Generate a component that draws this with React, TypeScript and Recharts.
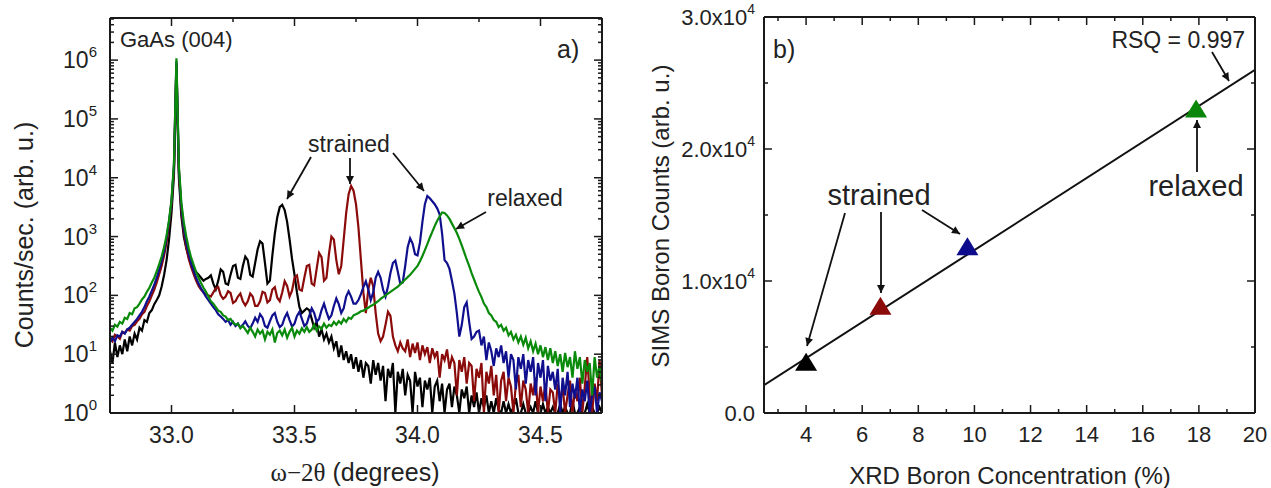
import React from 'react';
import { LineChart, ComposedChart, Line, Scatter, Cell, XAxis, YAxis } from 'recharts';

// ---- panel a: XRD omega-2theta scans (values are log10 of counts/sec) ----
const angle = [
  32.75, 32.76, 32.77, 32.78, 32.79, 32.80, 32.81, 32.82, 32.83, 32.84,
  32.85, 32.86, 32.87, 32.88, 32.89, 32.90, 32.91, 32.92, 32.93, 32.94,
  32.95, 32.96, 32.97, 32.98, 32.99, 33.00, 33.01, 33.02, 33.03, 33.04,
  33.05, 33.06, 33.07, 33.08, 33.09, 33.10, 33.11, 33.12, 33.13, 33.14,
  33.15, 33.16, 33.17, 33.18, 33.19, 33.20, 33.21, 33.22, 33.23, 33.24,
  33.25, 33.26, 33.27, 33.28, 33.29, 33.30, 33.31, 33.32, 33.33, 33.34,
  33.35, 33.36, 33.37, 33.38, 33.39, 33.40, 33.41, 33.42, 33.43, 33.44,
  33.45, 33.46, 33.47, 33.48, 33.49, 33.50, 33.51, 33.52, 33.53, 33.54,
  33.55, 33.56, 33.57, 33.58, 33.59, 33.60, 33.61, 33.62, 33.63, 33.64,
  33.65, 33.66, 33.67, 33.68, 33.69, 33.70, 33.71, 33.72, 33.73, 33.74,
  33.75, 33.76, 33.77, 33.78, 33.79, 33.80, 33.81, 33.82, 33.83, 33.84,
  33.85, 33.86, 33.87, 33.88, 33.89, 33.90, 33.91, 33.92, 33.93, 33.94,
  33.95, 33.96, 33.97, 33.98, 33.99, 34.00, 34.01, 34.02, 34.03, 34.04,
  34.05, 34.06, 34.07, 34.08, 34.09, 34.10, 34.11, 34.12, 34.13, 34.14,
  34.15, 34.16, 34.17, 34.18, 34.19, 34.20, 34.21, 34.22, 34.23, 34.24,
  34.25, 34.26, 34.27, 34.28, 34.29, 34.30, 34.31, 34.32, 34.33, 34.34,
  34.35, 34.36, 34.37, 34.38, 34.39, 34.40, 34.41, 34.42, 34.43, 34.44,
  34.45, 34.46, 34.47, 34.48, 34.49, 34.50, 34.51, 34.52, 34.53, 34.54,
  34.55, 34.56, 34.57, 34.58, 34.59, 34.60, 34.61, 34.62, 34.63, 34.64,
  34.65, 34.66, 34.67, 34.68, 34.69, 34.70, 34.71, 34.72, 34.73, 34.74,
  34.75,
];

const blackLog = [
  1.05, 0.85, 1.20, 0.95, 1.15, 1.00, 1.25, 1.05, 1.30, 1.15,
  1.35, 1.25, 1.45, 1.40, 1.58, 1.55, 1.70, 1.75, 1.85, 1.92,
  2.00, 2.15, 2.35, 2.60, 2.95, 3.40, 4.05, 5.90, 4.00, 3.35,
  3.00, 2.80, 2.65, 2.55, 2.45, 2.40, 2.35, 2.30, 2.25, 2.28,
  2.30, 2.34, 2.20, 2.10, 2.25, 2.44, 2.40, 2.20, 2.18, 2.35,
  2.50, 2.52, 2.30, 2.28, 2.50, 2.66, 2.60, 2.35, 2.32, 2.55,
  2.78, 2.92, 2.88, 2.55, 2.20, 2.25, 2.68, 3.05, 3.33, 3.50,
  3.54, 3.45, 3.25, 2.95, 2.62, 2.35, 2.05, 1.80, 1.70, 1.74,
  1.78, 1.75, 1.60, 1.45, 1.55, 1.30, 1.42, 1.25, 1.35, 1.20,
  1.30, 1.10, 1.22, 0.95, 1.15, 0.90, 1.05, 0.85, 1.00, 0.75,
  0.95, 0.70, 0.90, 0.60, 0.85, 0.80, 0.50, 0.90, 0.65, 0.85,
  0.55, 0.80, 0.20, 0.75, 0.60, 0.85, 0.00, 0.70, 0.50, 0.75,
  0.30, 0.65, 0.55, 0.00, 0.70, 0.45, 0.60, 0.10, 0.55, 0.40,
  0.60, 0.00, 0.45, 0.55, 0.20, 0.50, 0.00, 0.40, 0.50, 0.10,
  0.45, 0.30, 0.00, 0.40, 0.25, 0.45, 0.00, 0.30, 0.10, 0.35,
  0.00, 0.25, 0.10, 0.30, 0.00, 0.20, 0.00, 0.25, 0.05, 0.00,
  0.20, 0.00, 0.15, 0.00, 0.10, 0.25, 0.00, 0.00, 0.15, 0.00,
  0.00, 0.10, 0.00, 0.20, 0.00, 0.00, 0.15, 0.00, 0.10, 0.00,
  0.10, 0.00, 0.00, 0.15, 0.00, 0.10, 0.00, 0.00, 0.20, 0.00,
  0.00, 0.10, 0.00, 0.00, 0.15, 0.00, 0.10, 0.00, 0.00, 0.10,
  0.00,
];

const redLog = [
  1.28, 1.22, 1.33, 1.30, 1.26, 1.38, 1.36, 1.42, 1.40, 1.48,
  1.50, 1.56, 1.60, 1.68, 1.72, 1.82, 1.90, 2.00, 2.10, 2.22,
  2.36, 2.50, 2.68, 2.90, 3.20, 3.55, 4.15, 5.95, 4.10, 3.45,
  3.08, 2.82, 2.62, 2.48, 2.36, 2.25, 2.16, 2.10, 2.05, 2.02,
  2.00, 1.98, 2.05, 2.12, 2.14, 2.00, 1.94, 1.98, 2.07, 2.04,
  1.87, 1.90, 1.98, 2.03, 1.90, 1.83, 1.90, 2.03, 1.98, 1.82,
  1.82, 1.90, 2.06, 2.04, 1.88, 1.92, 2.10, 2.14, 1.96, 1.90,
  2.05, 2.24, 2.16, 1.98, 2.08, 2.30, 2.34, 2.10, 2.08, 2.30,
  2.50, 2.52, 2.20, 2.17, 2.45, 2.72, 2.65, 2.25, 2.30, 2.70,
  3.00, 2.95, 2.60, 2.36, 2.50, 2.95, 3.40, 3.72, 3.86, 3.78,
  3.55, 3.15, 2.60, 2.05, 1.70, 2.10, 2.30, 2.15, 1.70, 1.35,
  1.22, 1.30, 1.50, 1.72, 1.65, 1.30, 1.15, 1.05, 1.20, 1.10,
  1.05, 1.25, 0.95, 1.18, 1.02, 1.20, 0.90, 1.15, 1.00, 1.12,
  0.85, 1.10, 0.95, 1.05, 0.60, 1.00, 0.90, 1.08, 0.75, 0.95,
  0.85, 0.30, 0.90, 0.70, 0.95, 0.50, 0.85, 0.80, 0.20, 0.75,
  0.60, 0.85, 0.00, 0.70, 0.50, 0.80, 0.30, 0.65, 0.00, 0.55,
  0.70, 0.20, 0.60, 0.45, 0.00, 0.50, 0.65, 0.10, 0.55, 0.40,
  0.00, 0.50, 0.30, 0.60, 0.00, 0.45, 0.20, 0.50, 0.00, 0.40,
  0.35, 0.00, 0.50, 0.20, 0.45, 0.00, 0.30, 0.55, 0.00, 0.40,
  0.20, 0.60, 0.00, 0.45, 0.95, 0.30, 0.00, 0.50, 0.20, 0.90,
  0.30,
];

const blueLog = [
  1.20, 1.28, 1.22, 1.32, 1.30, 1.38, 1.35, 1.42, 1.45, 1.50,
  1.55, 1.60, 1.66, 1.72, 1.80, 1.90, 1.98, 2.08, 2.18, 2.30,
  2.44, 2.58, 2.75, 2.98, 3.25, 3.60, 4.20, 5.98, 4.15, 3.52,
  3.15, 2.90, 2.70, 2.54, 2.42, 2.30, 2.20, 2.12, 2.05, 1.98,
  1.92, 1.86, 1.80, 1.75, 1.68, 1.64, 1.60, 1.55, 1.58, 1.50,
  1.55, 1.48, 1.52, 1.45, 1.50, 1.56, 1.48, 1.44, 1.52, 1.62,
  1.55, 1.68, 1.62, 1.48, 1.45, 1.56, 1.66, 1.70, 1.55, 1.46,
  1.50, 1.62, 1.70, 1.58, 1.47, 1.52, 1.65, 1.72, 1.60, 1.48,
  1.52, 1.65, 1.78, 1.70, 1.55, 1.60, 1.75, 1.86, 1.72, 1.60,
  1.66, 1.82, 1.95, 1.85, 1.70, 1.78, 1.98, 2.07, 1.98, 1.86,
  1.86, 1.92, 2.02, 2.14, 2.24, 2.10, 1.92, 2.05, 2.30, 2.40,
  2.30, 2.10, 1.98, 2.15, 2.38, 2.55, 2.59, 2.40, 2.20, 2.22,
  2.50, 2.82, 2.97, 2.88, 2.70, 2.68, 2.90, 3.25, 3.55, 3.69,
  3.65, 3.60, 3.55, 3.48, 3.38, 3.05, 2.60, 2.55, 2.45, 2.25,
  2.03, 1.70, 1.30, 1.50, 1.80, 1.88, 1.55, 1.26, 1.30, 1.38,
  1.40, 1.15, 1.30, 0.90, 1.20, 1.05, 0.80, 1.10, 0.95, 1.15,
  0.85, 1.05, 0.60, 1.00, 0.90, 0.40, 0.95, 0.75, 1.00, 0.50,
  0.90, 0.70, 0.95, 0.30, 0.85, 0.60, 0.90, 0.20, 0.80, 0.55,
  0.70, 0.40, 0.75, 0.00, 0.60, 0.30, 0.70, 0.10, 0.50, 0.25,
  0.60, 0.00, 0.40, 0.20, 0.55, 0.00, 0.30, 0.45, 0.00, 0.35,
  0.20,
];

const greenLog = [
  1.45, 1.40, 1.50, 1.47, 1.55, 1.52, 1.62, 1.60, 1.70, 1.68,
  1.78, 1.80, 1.86, 1.93, 1.98, 2.06, 2.13, 2.22, 2.30, 2.41,
  2.53, 2.66, 2.82, 3.02, 3.28, 3.62, 4.25, 6.03, 4.20, 3.58,
  3.24, 3.00, 2.80, 2.64, 2.52, 2.40, 2.30, 2.21, 2.13, 2.06,
  1.98, 1.90, 1.86, 1.80, 1.74, 1.72, 1.66, 1.64, 1.58, 1.60,
  1.54, 1.50, 1.52, 1.44, 1.48, 1.42, 1.36, 1.45, 1.38, 1.30,
  1.42, 1.35, 1.40, 1.25, 1.38, 1.33, 1.42, 1.20, 1.36, 1.40,
  1.32, 1.42, 1.28, 1.38, 1.45, 1.30, 1.40, 1.35, 1.44, 1.38,
  1.46, 1.38, 1.42, 1.50, 1.40, 1.47, 1.43, 1.52, 1.45, 1.50,
  1.48, 1.55, 1.50, 1.56, 1.52, 1.60, 1.55, 1.62, 1.60, 1.66,
  1.68, 1.70, 1.73, 1.74, 1.77, 1.79, 1.82, 1.84, 1.87, 1.90,
  1.94, 1.97, 2.00, 2.03, 2.06, 2.09, 2.12, 2.15, 2.19, 2.23,
  2.27, 2.31, 2.35, 2.40, 2.45, 2.50, 2.58, 2.67, 2.77, 2.87,
  2.98, 3.08, 3.18, 3.27, 3.34, 3.41, 3.40, 3.36, 3.30, 3.22,
  3.14, 3.06, 2.96, 2.85, 2.73, 2.61, 2.50, 2.38, 2.27, 2.16,
  2.06, 1.97, 1.86, 1.80, 1.70, 1.66, 1.58, 1.55, 1.46, 1.50,
  1.40, 1.45, 1.32, 1.38, 1.25, 1.33, 1.20, 1.30, 1.16, 1.28,
  1.10, 1.22, 1.05, 1.18, 1.00, 1.15, 0.95, 1.12, 0.90, 1.10,
  0.85, 1.05, 0.80, 1.00, 0.70, 1.02, 0.78, 0.95, 0.60, 1.05,
  0.75, 0.95, 0.50, 0.90, 0.70, 0.85, 0.30, 0.95, 0.60, 0.80,
  0.50,
];

const angleMajor = [33.0, 33.5, 34.0, 34.5];
const angleMinor = [32.75, 33.25, 33.75, 34.25, 34.75];
const decadeExp = [0, 1, 2, 3, 4, 5, 6];

// ---- panel b: SIMS vs XRD boron ----
const xrdBoron = [4.0, 6.65, 9.75, 17.9];
const simsBoron = [3650, 7900, 12400, 22850];
const fitX = [2.5, 20];
const fitY = [2100, 26000];
const concTicks = [3, 4, 5, 6, 7, 8, 9, 10, 11, 12, 13, 14, 15, 16, 17, 18, 19, 20];
const countTicks = [0, 5000, 10000, 15000, 20000, 25000, 30000];

const pointColors = ['#000000', '#8b0a0a', '#0c0c8c', '#0a870a'];
const C_BLACK = '#000000';
const C_RED = '#8b0a0a';
const C_BLUE = '#10108f';
const C_GREEN = '#0a8a0a';

const FONT = '"Liberation Sans", Arial, Helvetica, sans-serif';
const SERIF = '"Liberation Serif", "Times New Roman", serif';
const INK = '#222';
const AX = '#1a1a1a';

const xrdRows = angle.map((a, i) => ({
  angle: a,
  black: 10 ** blackLog[i],
  red: 10 ** redLog[i],
  blue: 10 ** blueLog[i],
  green: 10 ** greenLog[i],
}));

const logTicks: number[] = [];
decadeExp.forEach((e) => {
  const base = 10 ** e;
  const top = e === 6 ? 5 : 9;
  for (let m = 1; m <= top; m++) logTicks.push(m * base);
});

const angleTicks = [...angleMinor, ...angleMajor].sort((a, b) => a - b);

const fitRows = fitX.map((x, i) => ({ x, y: fitY[i] }));
const pointRows = xrdBoron.map((x, i) => ({ x, y: simsBoron[i] }));

const isDecade = (v: number) => {
  const e = Math.log10(v);
  return Math.abs(e - Math.round(e)) < 1e-6;
};

// ---- tick renderers (ticks point inwards, like Origin) ----
function LogLeftTick({ x = 0, y = 0, payload }: any) {
  const major = isDecade(payload.value);
  return (
    <g>
      <line x1={x} x2={x + (major ? 8 : 4)} y1={y} y2={y} stroke={AX} strokeWidth={1.5} />
      {major && (
        <text x={x - 13} y={y + 8} textAnchor="end" fontSize={23} fill={INK} fontFamily={FONT}>
          10<tspan fontSize={15} dy={-11}>{Math.round(Math.log10(payload.value))}</tspan>
        </text>
      )}
    </g>
  );
}

function LogRightTick({ x = 0, y = 0, payload }: any) {
  const major = isDecade(payload.value);
  return <line x1={x} x2={x - (major ? 8 : 4)} y1={y} y2={y} stroke={AX} strokeWidth={1.5} />;
}

function AngleBottomTick({ x = 0, y = 0, payload }: any) {
  const major = angleMajor.includes(payload.value);
  return (
    <g>
      <line x1={x} x2={x} y1={y} y2={y - (major ? 8 : 4)} stroke={AX} strokeWidth={1.5} />
      {major && (
        <text x={x} y={y + 30} textAnchor="middle" fontSize={23} fill={INK} fontFamily={FONT}>
          {payload.value.toFixed(1)}
        </text>
      )}
    </g>
  );
}

function AngleTopTick({ x = 0, y = 0, payload }: any) {
  const major = angleMajor.includes(payload.value);
  return <line x1={x} x2={x} y1={y} y2={y + (major ? 8 : 4)} stroke={AX} strokeWidth={1.5} />;
}

function ConcBottomTick({ x = 0, y = 0, payload }: any) {
  const major = payload.value % 2 === 0;
  return (
    <g>
      <line x1={x} x2={x} y1={y} y2={y - (major ? 8 : 4)} stroke={AX} strokeWidth={1.5} />
      {major && (
        <text x={x} y={y + 29} textAnchor="middle" fontSize={22} fill={INK} fontFamily={FONT}>
          {payload.value}
        </text>
      )}
    </g>
  );
}

function ConcTopTick({ x = 0, y = 0, payload }: any) {
  const major = payload.value % 2 === 0;
  return <line x1={x} x2={x} y1={y} y2={y + (major ? 8 : 4)} stroke={AX} strokeWidth={1.5} />;
}

function CountLeftTick({ x = 0, y = 0, payload }: any) {
  const v = payload.value;
  const major = v % 10000 === 0;
  return (
    <g>
      <line x1={x} x2={x + (major ? 8 : 4)} y1={y} y2={y} stroke={AX} strokeWidth={1.5} />
      {major && (
        <text x={x - 9} y={y + 8} textAnchor="end" fontSize={22} fill={INK} fontFamily={FONT}>
          {v === 0 ? '0.0' : `${(v / 10000).toFixed(1)}x10`}
          {v !== 0 && <tspan fontSize={14} dy={-11}>4</tspan>}
        </text>
      )}
    </g>
  );
}

function CountRightTick({ x = 0, y = 0, payload }: any) {
  const major = payload.value % 10000 === 0;
  return <line x1={x} x2={x - (major ? 8 : 4)} y1={y} y2={y} stroke={AX} strokeWidth={1.5} />;
}

function Triangle({ cx, cy, fill }: any) {
  return <polygon points={`${cx},${cy - 12} ${cx - 11},${cy + 6} ${cx + 11},${cy + 6}`} fill={fill} />;
}

const axisLine = { stroke: AX, strokeWidth: 2 };

function Arrow({ x1, y1, x2, y2 }: { x1: number; y1: number; x2: number; y2: number }) {
  return <line x1={x1} y1={y1} x2={x2} y2={y2} stroke="#111" strokeWidth={1.8} markerEnd="url(#arrowHead)" />;
}

export default function App() {
  return (
    <div style={{ position: 'absolute', left: 0, top: 0, width: 1271, height: 488, background: '#fff', fontFamily: FONT }}>
      {/* a) XRD scans */}
      <div style={{ position: 'absolute', left: 0, top: 0 }}>
        <LineChart width={640} height={488} data={xrdRows} margin={{ top: 17, right: 37, bottom: 74, left: 109 }}>
          <XAxis xAxisId="b" type="number" dataKey="angle" domain={[32.75, 34.75]} allowDataOverflow
            ticks={angleTicks} interval={0} height={1} tickSize={0} tickMargin={0} tickLine={false}
            axisLine={axisLine} tick={<AngleBottomTick />} />
          <XAxis xAxisId="t" orientation="top" type="number" dataKey="angle" domain={[32.75, 34.75]} allowDataOverflow
            ticks={angleTicks} interval={0} height={1} tickSize={0} tickMargin={0} tickLine={false}
            axisLine={axisLine} tick={<AngleTopTick />} />
          <YAxis yAxisId="l" type="number" scale="log" domain={[1, 5.2e6]} allowDataOverflow
            ticks={logTicks} interval={0} width={1} tickSize={0} tickMargin={0} tickLine={false}
            axisLine={axisLine} tick={<LogLeftTick />} />
          <YAxis yAxisId="r" orientation="right" type="number" scale="log" domain={[1, 5.2e6]} allowDataOverflow
            ticks={logTicks} interval={0} width={1} tickSize={0} tickMargin={0} tickLine={false}
            axisLine={axisLine} tick={<LogRightTick />} />
          <Line xAxisId="b" yAxisId="l" dataKey="black" stroke={C_BLACK} strokeWidth={2.2} dot={false} isAnimationActive={false} />
          <Line xAxisId="b" yAxisId="l" dataKey="red" stroke={C_RED} strokeWidth={2.2} dot={false} isAnimationActive={false} />
          <Line xAxisId="b" yAxisId="l" dataKey="blue" stroke={C_BLUE} strokeWidth={2.2} dot={false} isAnimationActive={false} />
          <Line xAxisId="b" yAxisId="l" dataKey="green" stroke={C_GREEN} strokeWidth={2.2} dot={false} isAnimationActive={false} />
        </LineChart>
      </div>

      {/* b) SIMS vs XRD */}
      <div style={{ position: 'absolute', left: 640, top: 0 }}>
        <ComposedChart width={631} height={488} margin={{ top: 16, right: 15, bottom: 74, left: 123 }}>
          <XAxis xAxisId="b" type="number" dataKey="x" domain={[2.5, 20]} allowDataOverflow
            ticks={concTicks} interval={0} height={1} tickSize={0} tickMargin={0} tickLine={false}
            axisLine={axisLine} tick={<ConcBottomTick />} />
          <XAxis xAxisId="t" orientation="top" type="number" dataKey="x" domain={[2.5, 20]} allowDataOverflow
            ticks={concTicks} interval={0} height={1} tickSize={0} tickMargin={0} tickLine={false}
            axisLine={axisLine} tick={<ConcTopTick />} />
          <YAxis yAxisId="l" type="number" dataKey="y" domain={[0, 30000]} allowDataOverflow
            ticks={countTicks} interval={0} width={1} tickSize={0} tickMargin={0} tickLine={false}
            axisLine={axisLine} tick={<CountLeftTick />} />
          <YAxis yAxisId="r" orientation="right" type="number" dataKey="y" domain={[0, 30000]} allowDataOverflow
            ticks={countTicks} interval={0} width={1} tickSize={0} tickMargin={0} tickLine={false}
            axisLine={axisLine} tick={<CountRightTick />} />
          <Line xAxisId="b" yAxisId="l" data={fitRows} dataKey="y" stroke="#111" strokeWidth={2} dot={false} isAnimationActive={false} />
          <Scatter xAxisId="b" yAxisId="l" data={pointRows} dataKey="y" shape={<Triangle />} isAnimationActive={false}>
            {pointRows.map((_, i) => <Cell key={i} fill={pointColors[i]} />)}
          </Scatter>
        </ComposedChart>
      </div>

      {/* labels and annotations */}
      <svg width={1271} height={488} style={{ position: 'absolute', left: 0, top: 0, pointerEvents: 'none' }}>
        <defs>
          <marker id="arrowHead" viewBox="0 0 10 10" refX={10} refY={5} markerWidth={10} markerHeight={8}
            markerUnits="userSpaceOnUse" orient="auto">
            <path d="M0,0 L10,5 L0,10 z" fill="#111" />
          </marker>
        </defs>
        <g fontFamily={FONT} fill={INK}>
          <text x={24} y={235} fontSize={25} textAnchor="middle" dominantBaseline="central" transform="rotate(-90 24 235)">
            Counts/sec. (arb. u.)
          </text>
          <text x={355} y={481} fontSize={25} textAnchor="middle">
            <tspan fontFamily={SERIF}>ω−2θ</tspan> (degrees)
          </text>
          <text x={120} y={47} fontSize={22}>GaAs (004)</text>
          <text x={557} y={58} fontSize={25}>a)</text>
          <text x={349} y={152} fontSize={23} textAnchor="middle">strained</text>
          <text x={525} y={206} fontSize={23} textAnchor="middle">relaxed</text>

          <text x={660} y={216} fontSize={24} textAnchor="middle" dominantBaseline="central" transform="rotate(-90 660 216)">
            SIMS Boron Counts (arb. u.)
          </text>
          <text x={1010} y={484} fontSize={24} textAnchor="middle">XRD Boron Concentration (%)</text>
          <text x={773} y={58} fontSize={25}>b)</text>
          <text x={879} y={205} fontSize={29} textAnchor="middle">strained</text>
          <text x={1196} y={196} fontSize={29} textAnchor="middle">relaxed</text>
          <text x={1245} y={48} fontSize={23} textAnchor="end">RSQ = 0.997</text>
        </g>
        <Arrow x1={311} y1={157} x2={287} y2={199} />
        <Arrow x1={350} y1={158} x2={350} y2={184} />
        <Arrow x1={393} y1={153} x2={424} y2={191} />
        <Arrow x1={486} y1={212} x2={456} y2={229} />
        <Arrow x1={845} y1={213} x2={807} y2={346} />
        <Arrow x1={881} y1={212} x2={881} y2={293} />
        <Arrow x1={922} y1={210} x2={960} y2={234} />
        <Arrow x1={1197} y1={172} x2={1197} y2={120} />
        <Arrow x1={1212} y1={52} x2={1229} y2={81} />
      </svg>
    </div>
  );
}
